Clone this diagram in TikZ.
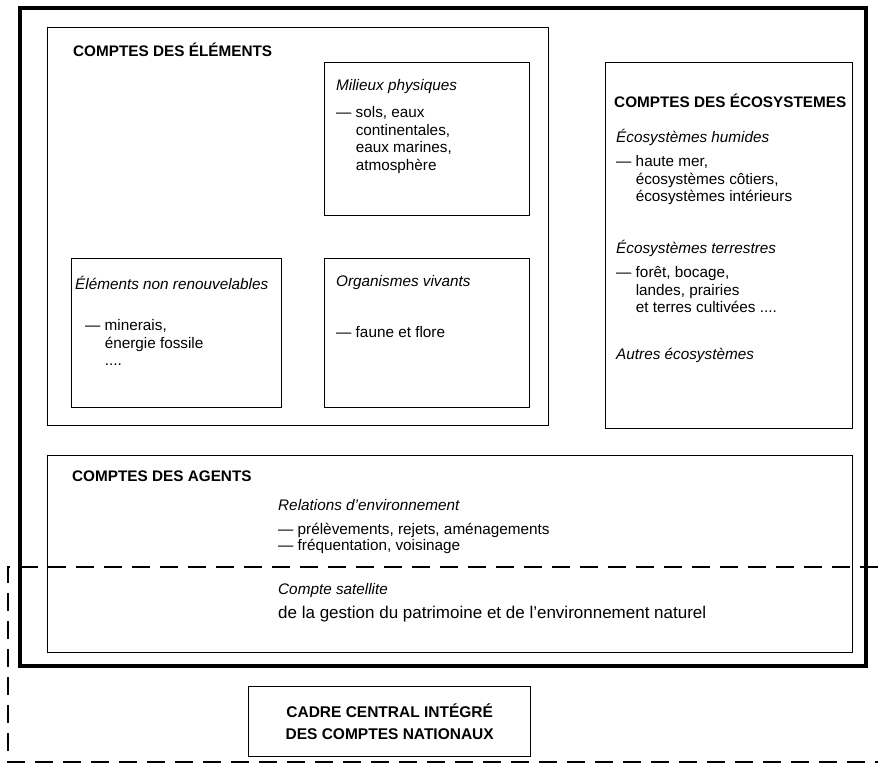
\documentclass[tikz,border=0pt]{standalone}
\usepackage{fontspec}
\setmainfont{Liberation Sans}
\newfontfamily\titlefont{Liberation Sans Bold}
\begin{document}
\begin{tikzpicture}[x=1pt,y=-1pt,
  thinbox/.style={draw,line width=1.4pt,anchor=north west,inner sep=0pt},
  thickbox/.style={draw,line width=3.6pt,anchor=north west,inner sep=0pt},
  title/.style={anchor=west,inner sep=0pt,font=\titlefont\fontsize{15.3}{18}\selectfont},
  sub/.style={anchor=west,inner sep=0pt,font=\itshape\fontsize{15.3}{18}\selectfont},
  body/.style={anchor=north west,inner sep=0pt,align=left,font=\fontsize{15.3}{17.8}\selectfont},
  dashline/.style={line width=2.5pt,dash pattern=on 18pt off 10pt}]
\useasboundingbox (0,0) rectangle (878,770);
% outer frame
\node[thickbox,minimum width=846pt,minimum height=658pt] (outer) at (18,6) {};
% elements
\node[thinbox,minimum width=501pt,minimum height=398pt] (elem) at (47,27) {};
\node[title] (elemt) at (73,50) {COMPTES DES ÉLÉMENTS};
\node[thinbox,minimum width=205pt,minimum height=153pt] (mil) at (324,62) {};
\node[sub] (milt) at (336,87) {Milieux physiques};
\node[body] (mill) at (336,106) {— sols, eaux\\\hphantom{— }continentales,\\\hphantom{— }eaux marines,\\\hphantom{— }atmosphère};
\node[thinbox,minimum width=210pt,minimum height=149pt] (nonr) at (71,258) {};
\node[sub] (nonrt) at (75,283) {Éléments non renouvelables};
\node[body] (nonrl) at (85,319) {— minerais,\\\hphantom{— }énergie fossile\\\hphantom{— }....};
\node[thinbox,minimum width=205pt,minimum height=149pt] (org) at (324,258) {};
\node[sub] (orgt) at (336,283) {Organismes vivants};
\node[body] (orgl) at (336,326) {— faune et flore};
% ecosystems
\node[thinbox,minimum width=247pt,minimum height=366pt] (eco) at (605,62) {};
\node[title] (ecot) at (614,101) {COMPTES DES ÉCOSYSTEMES};
\node[sub] (hum) at (616,137) {Écosystèmes humides};
\node[body] (huml) at (616,155) {— haute mer,\\\hphantom{— }écosystèmes côtiers,\\\hphantom{— }écosystèmes intérieurs};
\node[sub] (ter) at (616,248) {Écosystèmes terrestres};
\node[body] (terl) at (616,266) {— forêt, bocage,\\\hphantom{— }landes, prairies\\\hphantom{— }et terres cultivées ....};
\node[sub] (aut) at (616,355) {Autres écosystèmes};
% agents
\node[thinbox,minimum width=805pt,minimum height=197pt] (agents) at (47,455) {};
\node[title] (agt) at (72,476) {COMPTES DES AGENTS};
\node[sub] (rel) at (278,505) {Relations d'environnement};
\node[body,font=\fontsize{15.3}{16}\selectfont] (rell) at (278,523) {— prélèvements, rejets, aménagements\\— fréquentation, voisinage};
\node[sub] (sat) at (278,591) {Compte satellite};
\node[anchor=west,inner sep=0pt,font=\fontsize{17}{18}\selectfont] (satl) at (278,614) {de la gestion du patrimoine et de l'environnement naturel};
% central frame
\node[thinbox,minimum width=282pt,minimum height=70pt] (cadre) at (248,686) {};
\node[anchor=center,align=center,inner sep=0pt,font=\titlefont\fontsize{15.5}{22}\selectfont] (cadret) at (cadre.center) {CADRE CENTRAL INTÉGRÉ\\DES COMPTES NATIONAUX};
% dashed boundary of satellite account
\coordinate (d1) at (878,567);
\coordinate (d2) at (8,567);
\coordinate (d3) at (8,762);
\coordinate (d4) at (878,762);
\draw[dashline] (d1) -- (d2) -- (d3) -- (d4);
\end{tikzpicture}
\end{document}
